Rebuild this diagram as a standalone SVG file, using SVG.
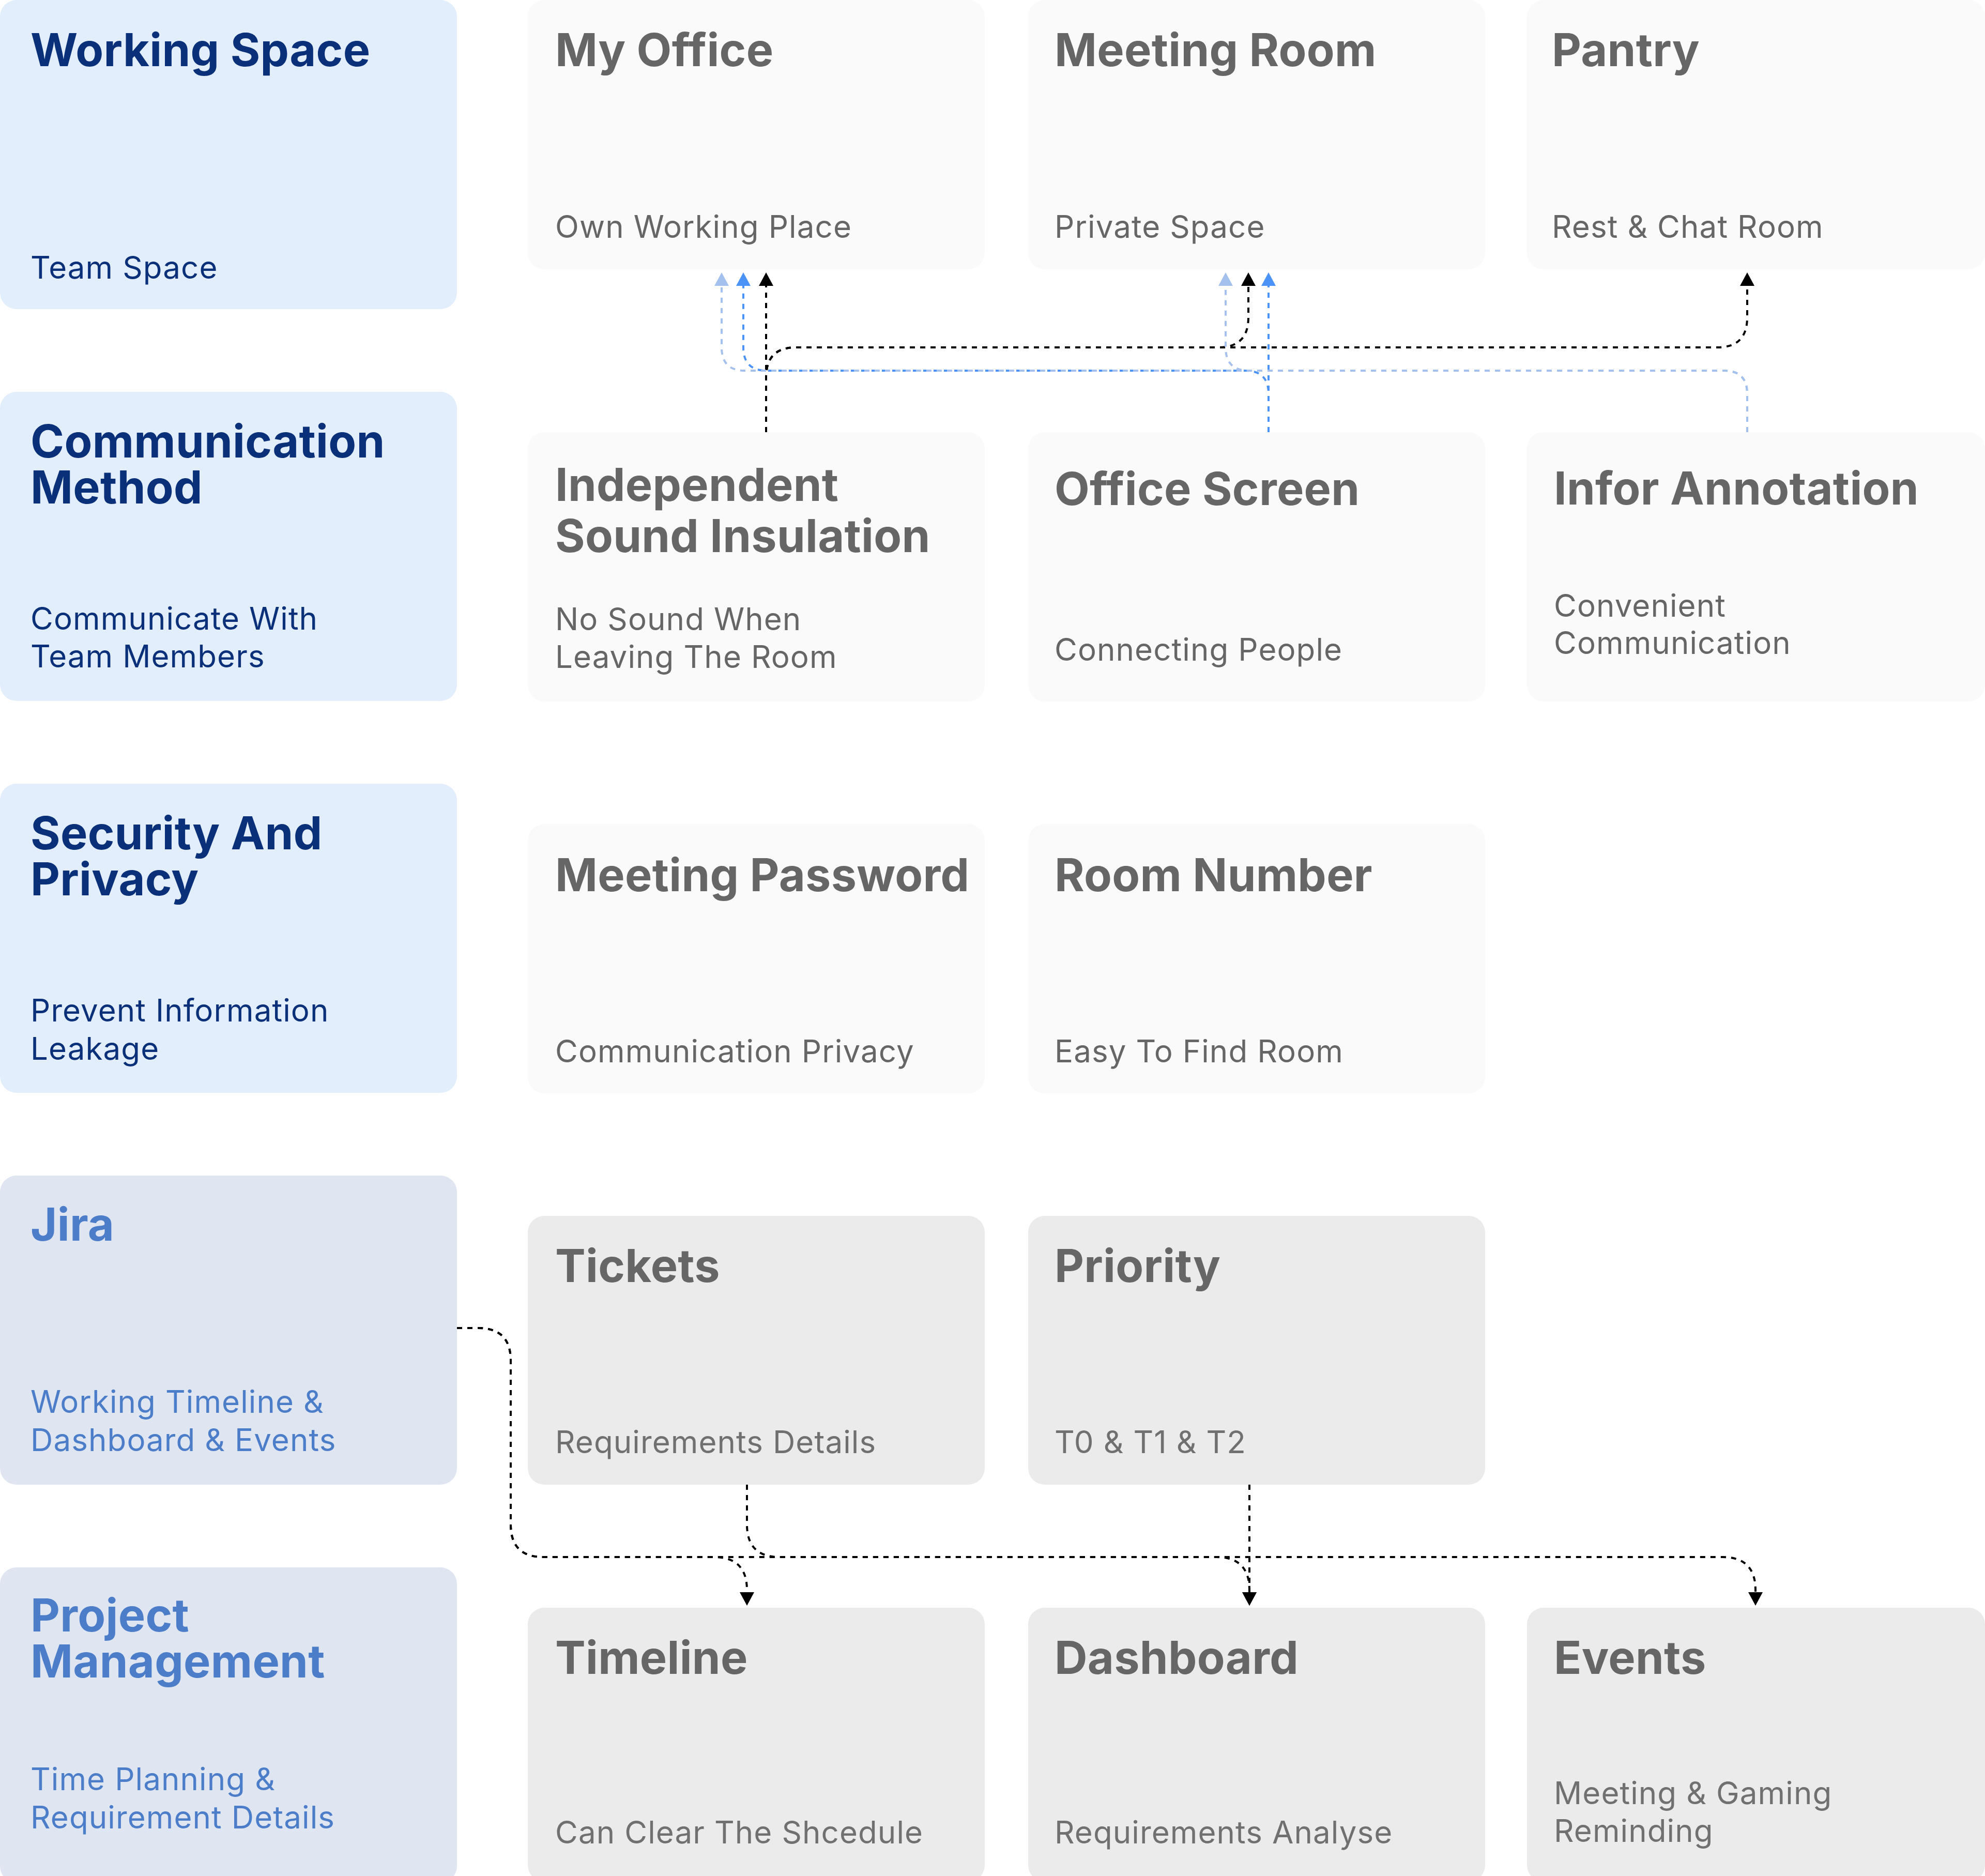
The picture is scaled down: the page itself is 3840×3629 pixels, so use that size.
<svg xmlns="http://www.w3.org/2000/svg" width="3840" height="3629" viewBox="0 0 3840 3629">
<defs>
<style>
.catA{fill:#E3EEFC}
.catB{fill:#DFE6F1}
.featA{fill:#FAFAFA}
.featB{fill:#EBEBEB}
.t{font-family:Inter,"Noto Sans","Liberation Sans",sans-serif;font-size:88px;font-weight:700;letter-spacing:0.3px}
.s{font-family:Inter,"Noto Sans","Liberation Sans",sans-serif;font-size:60px;font-weight:400;letter-spacing:1.1px}
.navy{fill:#0A3079}
.mid{fill:#4C7DC9}
.gray{fill:#666666}
.gray2{fill:#707070}
.c{fill:none;stroke-width:4;stroke-dasharray:10 10}
.k{stroke:#000000}
.b{stroke:#4C93F7}
.lb{stroke:#A3C1EC}
</style>
<marker id="ak" markerUnits="userSpaceOnUse" markerWidth="26" markerHeight="28" viewBox="0 0 26 28" refX="0" refY="14" orient="auto"><path d="M0,0 L26,14 L0,28 z" fill="#000000"/></marker>
<marker id="ab" markerUnits="userSpaceOnUse" markerWidth="26" markerHeight="28" viewBox="0 0 26 28" refX="0" refY="14" orient="auto"><path d="M0,0 L26,14 L0,28 z" fill="#4C93F7"/></marker>
<marker id="alb" markerUnits="userSpaceOnUse" markerWidth="26" markerHeight="28" viewBox="0 0 26 28" refX="0" refY="14" orient="auto"><path d="M0,0 L26,14 L0,28 z" fill="#A3C1EC"/></marker>
</defs>
<rect width="3840" height="3629" fill="#FFFFFF"/>

<!-- Row 0 -->
<g id="working-space">
<rect class="catA" x="0" y="0" width="884" height="598" rx="32"/>
<text class="t navy" x="59" y="128">Working Space</text>
<text class="s navy" x="59" y="539">Team Space</text>
</g>
<g id="my-office">
<rect class="featA" x="1021" y="0" width="884" height="521" rx="32"/>
<text class="t gray" x="1074" y="128">My Office</text>
<text class="s gray" x="1074" y="460">Own Working Place</text>
</g>
<g id="meeting-room">
<rect class="featA" x="1989" y="0" width="884" height="521" rx="32"/>
<text class="t gray" x="2040" y="128">Meeting Room</text>
<text class="s gray" x="2040" y="460">Private Space</text>
</g>
<g id="pantry">
<rect class="featA" x="2954" y="0" width="886" height="521" rx="32"/>
<text class="t gray" x="3002" y="128">Pantry</text>
<text class="s gray" x="3002" y="460">Rest &amp; Chat Room</text>
</g>

<!-- Row 1 -->
<g id="communication-method">
<rect class="catA" x="0" y="758" width="884" height="598" rx="32"/>
<text class="t navy" x="59" y="885">Communication</text>
<text class="t navy" x="59" y="974">Method</text>
<text class="s navy" x="59" y="1218">Communicate With</text>
<text class="s navy" x="59" y="1291">Team Members</text>
</g>
<g id="independent-sound-insulation">
<rect class="featA" x="1021" y="836" width="884" height="521" rx="32"/>
<text class="t gray" x="1074" y="969">Independent</text>
<text class="t gray" x="1074" y="1068">Sound Insulation</text>
<text class="s gray" x="1074" y="1219">No Sound When</text>
<text class="s gray" x="1074" y="1292">Leaving The Room</text>
</g>
<g id="office-screen">
<rect class="featA" x="1989" y="836" width="884" height="521" rx="32"/>
<text class="t gray" x="2040" y="977">Office Screen</text>
<text class="s gray" x="2040" y="1278">Connecting People</text>
</g>
<g id="infor-annotation">
<rect class="featA" x="2954" y="836" width="886" height="521" rx="32"/>
<text class="t gray" x="3006" y="976">Infor Annotation</text>
<text class="s gray" x="3006" y="1193">Convenient</text>
<text class="s gray" x="3006" y="1265">Communication</text>
</g>

<!-- Row 2 -->
<g id="security-and-privacy">
<rect class="catA" x="0" y="1516" width="884" height="598" rx="32"/>
<text class="t navy" x="59" y="1643">Security And</text>
<text class="t navy" x="59" y="1732">Privacy</text>
<text class="s navy" x="59" y="1976">Prevent Information</text>
<text class="s navy" x="59" y="2050">Leakage</text>
</g>
<g id="meeting-password">
<rect class="featA" x="1021" y="1594" width="884" height="521" rx="32"/>
<text class="t gray" x="1074" y="1724">Meeting Password</text>
<text class="s gray" x="1074" y="2055">Communication Privacy</text>
</g>
<g id="room-number">
<rect class="featA" x="1989" y="1594" width="884" height="521" rx="32"/>
<text class="t gray" x="2040" y="1724">Room Number</text>
<text class="s gray" x="2040" y="2055">Easy To Find Room</text>
</g>

<!-- Row 3 -->
<g id="jira">
<rect class="catB" x="0" y="2274" width="884" height="598" rx="32"/>
<text class="t mid" x="59" y="2400">Jira</text>
<text class="s mid" x="59" y="2733">Working Timeline &amp;</text>
<text class="s mid" x="59" y="2807">Dashboard &amp; Events</text>
</g>
<g id="tickets">
<rect class="featB" x="1021" y="2352" width="884" height="520" rx="32"/>
<text class="t gray" x="1074" y="2480">Tickets</text>
<text class="s gray2" x="1074" y="2811">Requirements Details</text>
</g>
<g id="priority">
<rect class="featB" x="1989" y="2352" width="884" height="520" rx="32"/>
<text class="t gray" x="2040" y="2480">Priority</text>
<text class="s gray2" x="2040" y="2811">T0 &amp; T1 &amp; T2</text>
</g>

<!-- Row 4 -->
<g id="project-management">
<rect class="catB" x="0" y="3032" width="884" height="610" rx="32"/>
<text class="t mid" x="59" y="3156">Project</text>
<text class="t mid" x="59" y="3245">Management</text>
<text class="s mid" x="59" y="3463">Time Planning &amp;</text>
<text class="s mid" x="59" y="3537">Requirement Details</text>
</g>
<g id="timeline">
<rect class="featB" x="1021" y="3110" width="884" height="530" rx="32"/>
<text class="t gray" x="1074" y="3238">Timeline</text>
<text class="s gray2" x="1074" y="3566">Can Clear The Shcedule</text>
</g>
<g id="dashboard">
<rect class="featB" x="1989" y="3110" width="884" height="530" rx="32"/>
<text class="t gray" x="2040" y="3238">Dashboard</text>
<text class="s gray2" x="2040" y="3566">Requirements Analyse</text>
</g>
<g id="events">
<rect class="featB" x="2954" y="3110" width="886" height="530" rx="32"/>
<text class="t gray" x="3006" y="3238">Events</text>
<text class="s gray2" x="3006" y="3490">Meeting &amp; Gaming</text>
<text class="s gray2" x="3006" y="3563">Reminding</text>
</g>

<!-- Connectors -->
<g id="connectors">
<path class="c k" d="M1482 836 V553" marker-end="url(#ak)"/>
<path class="c k" d="M1482 836 V730 Q1482 672 1540 672 H2357 Q2415 672 2415 614 V553" marker-end="url(#ak)"/>
<path class="c k" d="M1482 836 V730 Q1482 672 1540 672 H3322 Q3380 672 3380 614 V553" marker-end="url(#ak)"/>
<path class="c b" d="M2454 836 V553" marker-end="url(#ab)"/>
<path class="c b" d="M2454 836 V762 Q2454 717 2409 717 H1483 Q1438 717 1438 672 V553" marker-end="url(#ab)"/>
<path class="c lb" d="M3380 836 V762 Q3380 717 3335 717 H2416 Q2371 717 2371 672 V553" marker-end="url(#alb)"/>
<path class="c lb" d="M3380 836 V762 Q3380 717 3335 717 H1441 Q1396 717 1396 672 V553" marker-end="url(#alb)"/>
<path class="c k" d="M884 2569 H925 Q988 2569 988 2632 V2949 Q988 3012 1051 3012 H1381 Q1445 3012 1445 3076 V3080" marker-end="url(#ak)"/>
<path class="c k" d="M884 2569 H925 Q988 2569 988 2632 V2949 Q988 3012 1051 3012 H3332 Q3396 3012 3396 3076 V3080" marker-end="url(#ak)"/>
<path class="c k" d="M1445 2872 V2949 Q1445 3012 1508 3012 H2353 Q2417 3012 2417 3076 V3080" marker-end="url(#ak)"/>
<path class="c k" d="M2417 2872 V3080" marker-end="url(#ak)"/>
</g>
</svg>
